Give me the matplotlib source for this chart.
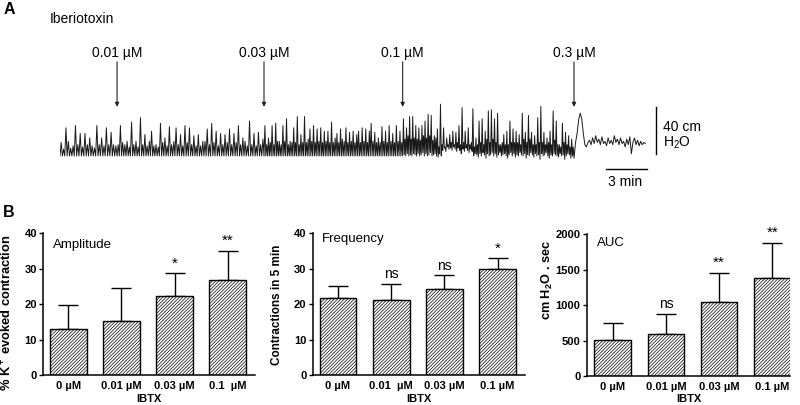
import numpy as np
import matplotlib
matplotlib.use('Agg')
import matplotlib.pyplot as plt

plt.rcParams['font.family'] = ['Liberation Sans', 'DejaVu Sans']
plt.rcParams['mathtext.default'] = 'regular'
plt.rcParams['hatch.linewidth'] = 0.5

# ---------------- Panel A data (trace, cm H2O vs min) ----------------
dose_labels = ['0.01 µM', '0.03 µM', '0.1 µM', '0.3 µM']
dose_times = [4.28, 15.3, 25.7, 38.55]
trace_start, trace_end = 0.0, 43.9

seg1_peaks = [12, 6, 25, 13, 7, 9, 27, 10, 20, 8, 20, 10, 16, 9, 7, 27, 10, 16, 9, 25, 10, 21, 10, 9]
seg2_peaks = [10, 27, 12, 10, 13, 8, 30, 10, 13, 8, 34, 10, 19, 9, 13, 22, 9, 10, 8, 29,
              12, 16, 9, 26, 10, 13, 25, 10, 19, 9, 27, 12, 25, 10, 18, 9, 19, 9, 13, 13,
              24, 10, 29, 12, 22, 9, 20, 10, 19, 12, 24, 10, 20, 12, 27, 10, 16, 13, 9, 31,
              10, 20, 9, 21, 10, 15]
seg3_peaks = [27, 10, 16, 12, 27, 10, 29, 13, 13, 10, 27, 13, 33, 10, 13, 12, 25, 12, 35, 10,
              19, 12, 35, 12, 15, 24, 13, 27, 12, 24, 13, 25, 12, 22, 13, 22, 12, 30, 12, 16,
              20, 12, 24, 15, 13, 25, 12, 21, 13, 22, 12, 19, 22, 12, 25, 13, 24, 12, 22, 29,
              13, 21, 12, 16, 12, 26, 13, 22, 12, 27, 13, 20, 12, 27, 13, 22, 12]
seg4_peaks = [33, 15, 25, 18, 35, 15, 35, 16, 27, 15, 25, 14, 27, 18, 31, 16, 37, 18, 36, 14,
              18, 16, 24, 8, 46, 10, 25, 8, 16, 10, 19, 12, 22, 10, 21, 12, 27, 10, 43, 12,
              22, 10, 25, 10, 12, 42, 8, 16, 10, 31, 12, 33, 10, 22, 15, 40, 12, 41, 15, 33,
              12, 38, 10, 10, 12,
              19, 10, 22, 10, 31, 12, 24, 12, 22, 12, 19, 10, 38, 15, 21, 12, 36, 15, 21, 10,
              18, 10, 34, 12, 44, 12, 21, 10, 16, 12, 22, 10, 40, 14, 31, 10, 10, 8, 29, 12,
              21, 10, 18, 8, 15, 8]
seg4_troughs = [0, 1, 0, 2, 0, 1, 0, 2, 1, 0, 2, 0, 1, 3, 0, 2, 0, 1, 3, 0,
                1, 2, 0, -1, 2, 0, 5, 7, 4, 8, 6, 7, 5, 8, 6, 4, 7, 5, 2, 6,
                4, 7, 5, 3, 6, 4, 0, 2, 1, -1, 2, 0, 3, 1, -2, 2, 0, 1, 3, 0,
                2, -1, 1, 3, 0, 1, 2, 0, -2, 1, 3, 0, 2, -1, 1, 0, 3, 1, 0, 2,
                -2, 1, 0, 3, 1, -1, 2, 0, 1, -3, 2, 0, 1, 3, 0, -2, 1, 0, 2, 1,
                0, -1, 2, 0, 1, -3, 0, 2, 1, -2, 0, -3]
seg5_values = [-2, 12, 20, 32, 38, 33, 20, 10, 8, 12, 14, 10, 16, 11, 18, 12, 15, 10, 17, 11,
               13, 9, 16, 11, 14, 10, 18, 12, 15, 10, 16, 11, 13, 8, 15, 10, 17, 2, 12, 16,
               10, 14, 9, 13, 10, 12, 11]

# ---------------- Panel B data ----------------
doses_amp = ['0 µM', '0.01 µM', '0.03 µM', '0.1  µM']
doses_freq = ['0 µM', '0.01  µM', '0.03 µM', '0.1 µM']
doses_auc = ['0 µM', '0.01 µM', '0.03 µM', '0.1 µM']
amp_vals = [12.9, 15.3, 22.3, 26.8]
amp_err = [6.9, 9.2, 6.4, 8.3]
amp_sig = ['', '', '*', '**']
freq_vals = [21.6, 21.2, 24.3, 29.9]
freq_err = [3.5, 4.6, 3.8, 3.0]
freq_sig = ['', 'ns', 'ns', '*']
auc_vals = [508, 588, 1040, 1379]
auc_err = [245, 292, 419, 499]
auc_sig = ['', 'ns', '**', '**']

W, H = 800, 405
fig = plt.figure(figsize=(W / 100, H / 100), dpi=100)


def fx(x):
    return x / W


def fy(y):
    return 1 - y / H


# ---------------- Panel A ----------------
axA = fig.add_axes([fx(60), fy(185), 640 / W, 145 / H])
axA.set_xlim(0, 48)
axA.set_ylim(-25.8, 103)
axA.axis('off')

bounds = [trace_start] + dose_times
seg_peaks = [seg1_peaks, seg2_peaks, seg3_peaks, seg4_peaks]
tt, yy = [], []
for i, peaks in enumerate(seg_peaks):
    a, b = bounds[i], bounds[i + 1]
    n = len(peaks)
    step = (b - a) / n
    troughs = seg4_troughs if i == 3 else [0] * (n + 1)
    for k in range(n):
        tt.append(a + k * step)
        yy.append(troughs[k])
        tt.append(a + (k + 0.5) * step)
        yy.append(peaks[k])
tt_5 = np.linspace(dose_times[3], trace_end, len(seg5_values))
tt.extend(tt_5)
yy.extend(seg5_values)
axA.plot(tt, yy, color='#1a1a1a', lw=0.7)

for lab, t in zip(dose_labels, dose_times):
    axA.annotate('', xy=(t, 43.6), xytext=(t, 83.6),
                 arrowprops=dict(arrowstyle='-|>', color='#222222', lw=0.8,
                                 mutation_scale=6, shrinkA=0, shrinkB=0))
    axA.text(t, 91.3, lab, ha='center', va='center', fontsize=10)

# scale bars
axA.plot([44.7, 44.7], [1.8, 43.3], color='k', lw=1.0)
axA.plot([40.95, 44.05], [-11.8, -11.8], color='k', lw=1.0)
axA.text(42.4, -22.8, '3 min', ha='center', va='center', fontsize=10)
axA.text(45.2, 26, '40 cm', ha='left', va='center', fontsize=10)
axA.text(45.2, 11.3, 'H$_2$O', ha='left', va='center', fontsize=10)

fig.text(fx(9), fy(9), 'A', ha='center', va='center', fontsize=11.5, fontweight='bold')
fig.text(fx(49.5), fy(18.8), 'Iberiotoxin', ha='left', va='center', fontsize=10)
fig.text(fx(9), fy(212.5), 'B', ha='center', va='center', fontsize=11.5, fontweight='bold')


# ---------------- Panel B ----------------
def bar_panel(left, right, top, bottom, x0, spacing, labels, vals, errs, sig,
              ymax, yticks, title, title_xy, ylabel, ylabel_xy, ylabel_fs):
    ax = fig.add_axes([fx(left), fy(bottom), (right - left) / W, (bottom - top) / H])
    xs = np.arange(len(vals))
    ax.errorbar(xs, vals, yerr=[np.zeros(len(errs)), errs], fmt='none', ecolor='k',
                elinewidth=1.0, capsize=7, capthick=1.0, zorder=1)
    ax.bar(xs, vals, width=0.69, color='white', edgecolor='black',
           hatch='//////////', linewidth=1.0, zorder=2)
    for x, v, e, s in zip(xs, vals, errs, sig):
        if s:
            fs = 10 if s == 'ns' else 11
            ax.text(x, v + e + 0.02 * ymax, s, ha='center', va='bottom', fontsize=fs)
    ax.set_xlim((left - x0) / spacing, (right - x0) / spacing)
    ax.set_ylim(0, ymax)
    ax.set_yticks(yticks)
    ax.set_xticks(xs)
    ax.set_xticklabels(labels, fontsize=8, fontweight='bold')
    ax.tick_params(axis='x', length=0, pad=4)
    ax.tick_params(axis='y', length=3, width=1.0, pad=1.5, labelsize=8)
    for lbl in ax.get_yticklabels():
        lbl.set_fontweight('bold')
    for sp in ['top', 'right']:
        ax.spines[sp].set_visible(False)
    for sp in ['left', 'bottom']:
        ax.spines[sp].set_linewidth(1.1)
    fig.text(fx(title_xy[0]), fy(title_xy[1]), title, ha='left', va='center', fontsize=9.5)
    fig.text(fx((left + right) / 2), fy(399), 'IBTX', ha='center', va='center',
             fontsize=8, fontweight='bold')
    fig.text(fx(ylabel_xy[0]), fy(ylabel_xy[1]), ylabel, ha='center', va='center',
             rotation=90, fontsize=ylabel_fs, fontweight='bold')
    return ax


bar_panel(43.3, 255, 233.3, 375, 68.3, 53.1, doses_amp, amp_vals, amp_err, amp_sig,
          40, [0, 10, 20, 30, 40], 'Amplitude', (52.7, 245),
          '% K$^+$ evoked contraction', (7.3, 313), 9.3)
bar_panel(312.7, 525, 233.3, 375, 338, 53.2, doses_freq, freq_vals, freq_err, freq_sig,
          40, [0, 10, 20, 30, 40], 'Frequency', (321.7, 239.3),
          'Contractions in 5 min', (276.7, 305), 8.5)
bar_panel(586.7, 790.3, 234.3, 376, 612.7, 53.2, doses_auc, auc_vals, auc_err, auc_sig,
          2000, [0, 500, 1000, 1500, 2000], 'AUC', (596.7, 243.3),
          'cm H$_2$O . sec', (547, 280), 9.2)

fig.savefig('out.png', dpi=100)
